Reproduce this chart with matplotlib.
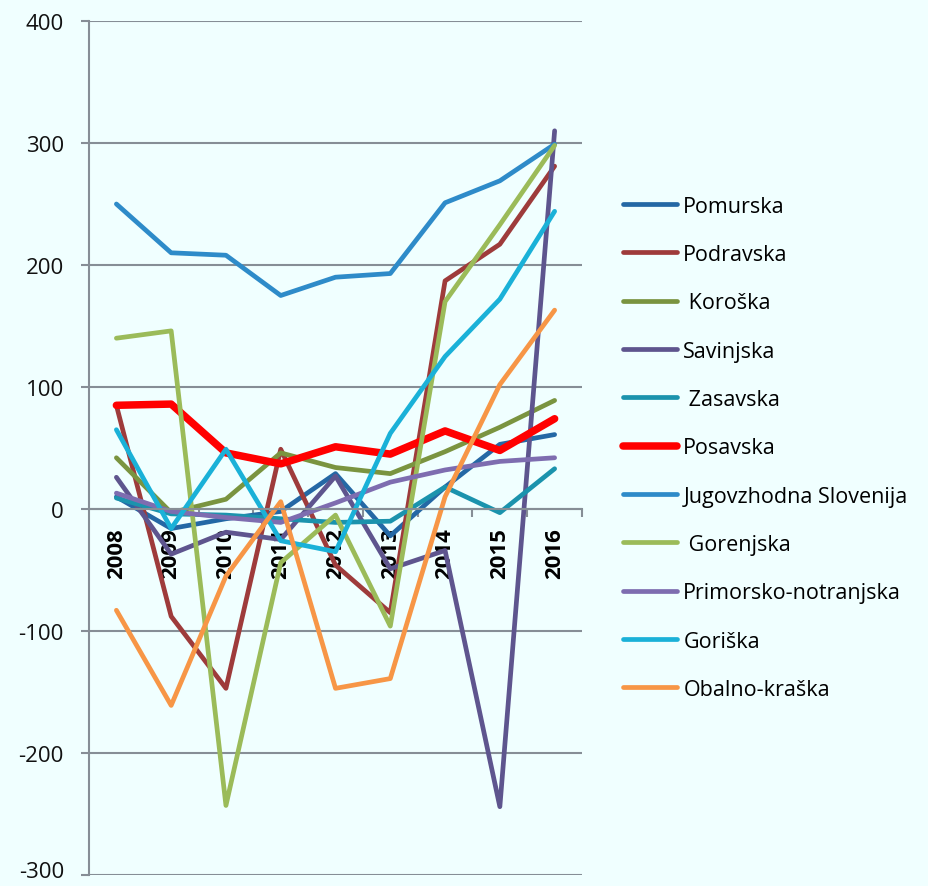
import numpy as np
import matplotlib.pyplot as plt
import matplotlib.transforms as mtransforms
from matplotlib.ticker import FixedLocator, NullFormatter

years = ['2008', '2009', '2010', '2011', '2012', '2013', '2014', '2015', '2016']

pomurska = [10, -16, -8, -2, 29, -22, 18, 53, 61]
podravska = [85, -88, -147, 49, -46, -85, 187, 217, 281]
koroska = [42, -3, 8, 46, 34, 29, 47, 67, 89]
savinjska = [26, -37, -19, -25, 27, -49, -34, -244, 310]
zasavska = [9, -4, -5, -8, -11, -10, 18, -3, 33]
posavska = [85, 86, 46, 37, 51, 45, 64, 48, 74]
jugovzhodna = [250, 210, 208, 175, 190, 193, 251, 269, 299]
gorenjska = [140, 146, -243, -44, -5, -96, 170, 233, 298]
primorsko = [13, -2, -7, -11, 5, 22, 32, 39, 42]
goriska = [65, -16, 49, -26, -35, 62, 125, 172, 244]
obalno = [-83, -161, -55, 6, -147, -139, 10, 102, 163]

names = ['Pomurska', 'Podravska', ' Koroška', 'Savinjska', ' Zasavska', 'Posavska',
         'Jugovzhodna Slovenija', ' Gorenjska', 'Primorsko-notranjska', 'Goriška',
         'Obalno-kraška']
series = [pomurska, podravska, koroska, savinjska, zasavska, posavska,
          jugovzhodna, gorenjska, primorsko, goriska, obalno]
colors = ['#2468A5', '#9E3B3B', '#7A9440', '#5E558E', '#1B93AD', '#FF0000',
          '#2E8BC9', '#9BBB59', '#7E6DB0', '#1AB1D8', '#F79646']

plt.rcParams['font.family'] = ['Open Sans', 'DejaVu Sans']
plt.rcParams['axes.unicode_minus'] = False
bg = '#F0FFFF'
grid_c = '#868E96'

fig = plt.figure(figsize=(9.29, 8.87), dpi=100, facecolor=bg)
ax = fig.add_axes([0.0958, 0.0124, 0.5307, 0.9628])
ax.set_facecolor(bg)

x = np.arange(len(years))
for name, vals, c in zip(names, series, colors):
    lw = 5.4 if name == 'Posavska' else 3.4
    ax.plot(x, vals, color=c, lw=lw, label=name,
            solid_capstyle='round', solid_joinstyle='round')

ax.set_xlim(-0.5, len(years) - 0.5)
ax.set_ylim(-300, 400)
ax.set_yticks(range(-300, 401, 100))
ax.yaxis.grid(True, color=grid_c, lw=1.5)
ax.set_axisbelow(True)

for s in ['top', 'right']:
    ax.spines[s].set_visible(False)
ax.spines['left'].set_color(grid_c)
ax.spines['left'].set_linewidth(1.5)
ax.spines['bottom'].set_position(('data', 0))
ax.spines['bottom'].set_color(grid_c)
ax.spines['bottom'].set_linewidth(1.5)

ax.tick_params(axis='y', colors=grid_c, length=6, width=1.5, labelsize=16,
               labelcolor='#111111', pad=12)

# labels at categories, tick marks between categories
ax.xaxis.set_major_locator(FixedLocator(x))
ax.set_xticklabels(years, rotation=90, fontsize=16, fontweight='bold', va='top')
ax.xaxis.set_minor_locator(FixedLocator(np.arange(-0.5, len(years), 1)[1:]))
ax.xaxis.set_minor_formatter(NullFormatter())
ax.tick_params(axis='x', which='major', length=0, pad=13)
ax.tick_params(axis='x', which='minor', length=6, width=1.5, colors=grid_c)

# nudge the bottom label up so it stays inside the picture
lab = ax.yaxis.get_major_ticks()[0].label1
lab.set_transform(lab.get_transform() +
                  mtransforms.ScaledTranslation(0, 4 / 72, fig.dpi_scale_trans))

fig.legend(loc='center left', bbox_to_anchor=(0.659, 0.494), frameon=False,
           fontsize=15.5, handlelength=2.5, handletextpad=0.3,
           labelspacing=1.27, borderpad=0)

fig.savefig('out.png', dpi=100, facecolor=bg)
